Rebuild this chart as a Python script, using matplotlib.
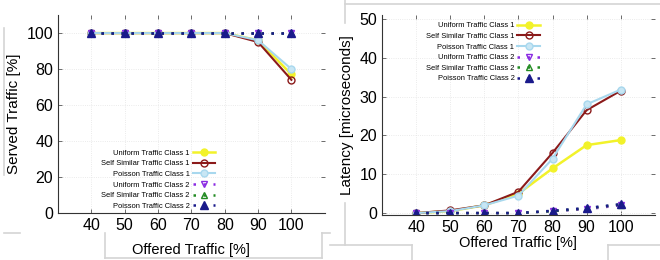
import numpy as np
import matplotlib
matplotlib.use('Agg')
import matplotlib.pyplot as plt
from matplotlib.lines import Line2D

plt.rcParams['font.family'] = ['Liberation Sans', 'DejaVu Sans']

offered = [40, 50, 60, 70, 80, 90, 100]

# served traffic [%]
served_uni1 = [100, 100, 100, 100, 100, 96, 77]
served_ss1 = [100, 100, 100, 100, 100, 95, 74]
served_poi1 = [100, 100, 100, 100, 100, 96, 80]
served_uni2 = [100, 100, 100, 100, 100, 100, 100]
served_ss2 = [100, 100, 100, 100, 100, 100, 100]
served_poi2 = [100, 100, 100, 100, 100, 100, 100]

# latency [microseconds]
lat_uni1 = [0.0, 0.5, 2.0, 5.0, 11.5, 17.5, 18.8]
lat_ss1 = [0.0, 0.7, 2.0, 5.5, 15.5, 26.5, 31.5]
lat_poi1 = [0.0, 0.5, 2.0, 4.5, 14.0, 28.0, 31.8]
lat_uni2 = [0.0, 0.0, 0.0, 0.0, 0.5, 1.0, 2.0]
lat_ss2 = [0.0, 0.0, 0.0, 0.0, 0.5, 1.2, 2.2]
lat_poi2 = [0.0, 0.0, 0.0, 0.0, 0.6, 1.3, 2.3]

names = ['Uniform Traffic Class 1', 'Self Similar Traffic Class 1', 'Poisson Traffic Class 1',
         'Uniform Traffic Class 2', 'Self Similar Traffic Class 2', 'Poisson Traffic Class 2']

dots = (0, (1, 3))
styles = [
    dict(color='#f2f22a', ls='-', marker='o', mfc='#f2f22a', mec='#f2f22a', lw=1.8, ms=5),
    dict(color='#8b1a1a', ls='-', marker='o', mfc='none', mec='#8b1a1a', lw=1.5, ms=5),
    dict(color='#a8d8ee', ls='-', marker='o', mfc='#c8e6f4', mec='#a8d8ee', lw=1.5, ms=5),
    dict(color='#8a2be2', ls=dots, marker='v', mfc='none', mec='#8a2be2', lw=1.8, ms=5),
    dict(color='#228b22', ls=dots, marker='^', mfc='none', mec='#228b22', lw=1.8, ms=5),
    dict(color='#1a1a8b', ls=dots, marker='^', mfc='#1a1a8b', mec='#1a1a8b', lw=1.8, ms=5.5),
]

fig = plt.figure(figsize=(6.6, 2.6), dpi=100)

# grey frame lines around the panels
frame = '#d4d4d4'
segs = [
    ([4, 4], [28, 175]), ([4, 20], [233, 233]), ([105, 105], [233, 258]),
    ([105, 322], [258, 258]), ([322, 322], [233, 258]), ([322, 330], [233, 233]),
    ([345, 660], [4, 4]), ([345, 345], [0, 23]), ([345, 345], [203, 245]),
    ([330, 412], [245, 245]), ([412, 412], [245, 260]), ([608, 608], [245, 260]),
    ([608, 660], [245, 245]),
]
for xs, ys in segs:
    fig.add_artist(Line2D([x / 660 for x in xs], [1 - y / 260 for y in ys],
                          color=frame, lw=1.2, transform=fig.transFigure))

ax1 = fig.add_axes([0.088, 0.181, 0.404, 0.761])
ax2 = fig.add_axes([0.579, 0.173, 0.413, 0.769])

for s, y in zip(styles, [served_uni1, served_ss1, served_poi1, served_uni2, served_ss2, served_poi2]):
    ax1.plot(offered, y, **s)
for s, y in zip(styles, [lat_uni1, lat_ss1, lat_poi1, lat_uni2, lat_ss2, lat_poi2]):
    ax2.plot(offered, y, **s)

for ax in (ax1, ax2):
    ax.set_xlim(30, 110)
    ax.set_xticks(offered)
    ax.tick_params(direction='in', top=True, right=True, labelsize=11.5, length=3, width=0.6,
                   color='#555555')
    ax.grid(True, color='#e4e4e4', ls=':', lw=0.6)
    for side in ('top', 'right'):
        ax.spines[side].set_visible(False)
    for side in ('left', 'bottom'):
        ax.spines[side].set_color('#333333')
        ax.spines[side].set_linewidth(0.8)

ax1.set_xlabel('Offered Traffic [%]', fontsize=10.5, labelpad=7)
ax2.set_xlabel('Offered Traffic [%]', fontsize=10.5, labelpad=1)

ax1.set_ylim(0, 110)
ax1.set_yticks([0, 20, 40, 60, 80, 100])
ax1.set_ylabel('Served Traffic [%]', fontsize=11)
ax2.set_ylim(-0.5, 51)
ax2.set_yticks([0, 10, 20, 30, 40, 50])
ax2.set_ylabel('Latency [microseconds]', fontsize=11)

leg_kw = dict(markerfirst=False, frameon=False, fontsize=5.4, handlelength=3.0,
              labelspacing=0.45, handletextpad=0.4, borderpad=0.2, borderaxespad=0.2)
ax1.legend(names, loc='lower right', bbox_to_anchor=(0.6, 0.0), **leg_kw)
ax2.legend(names, loc='upper right', bbox_to_anchor=(0.59, 0.98), **leg_kw)

fig.savefig('out.png', dpi=100)
